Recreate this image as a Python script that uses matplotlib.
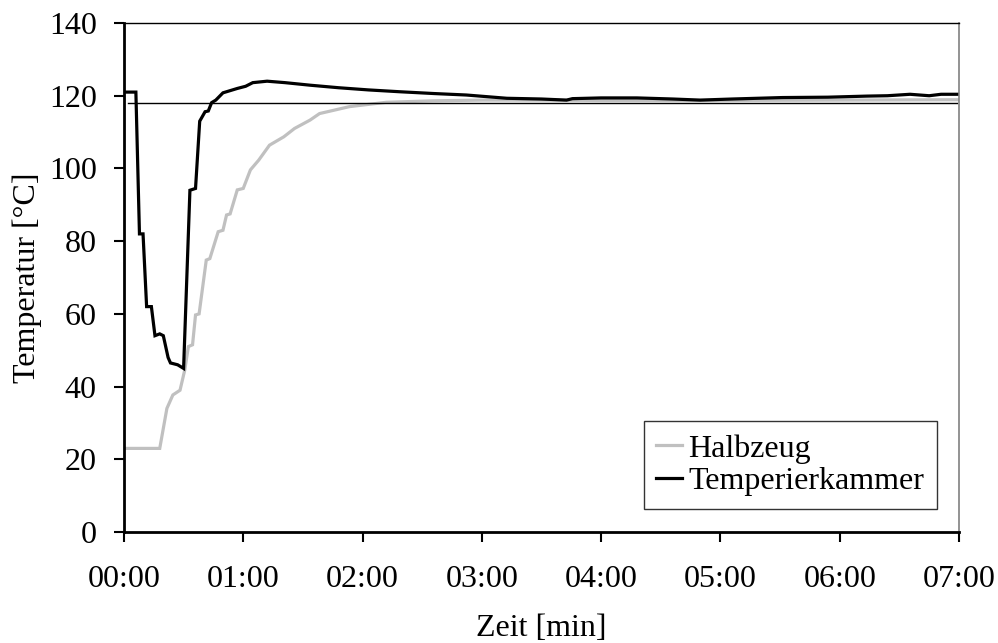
import matplotlib
matplotlib.use("Agg")
import matplotlib.pyplot as plt
from matplotlib.ticker import FuncFormatter, MultipleLocator

# Messwerte (Zeit in Minuten, Temperatur in °C)
t_kammer = [0.00, 0.10, 0.13, 0.16, 0.19, 0.23, 0.26, 0.30, 0.33, 0.37, 0.39, 0.45,
            0.50, 0.553, 0.60, 0.635, 0.68, 0.707, 0.735, 0.77, 0.83, 0.88,
            0.95, 1.02, 1.08, 1.20, 1.35, 1.56, 1.80, 2.05, 2.31, 2.60, 2.87,
            3.21, 3.50, 3.71, 3.76, 4.00, 4.30, 4.60, 4.83, 5.10, 5.52, 5.90,
            6.23, 6.40, 6.59, 6.75, 6.85, 7.00]
temp_kammer = [121.0, 121.0, 82.0, 82.0, 62.0, 62.0, 54.0, 54.5, 54.0, 48.0, 46.5, 46.0,
               45.0, 94.0, 94.5, 113.0, 115.6, 115.8, 118.1, 118.8, 120.8, 121.3,
               122.0, 122.6, 123.6, 124.0, 123.6, 122.9, 122.2, 121.6, 121.1, 120.6, 120.2,
               119.3, 119.1, 118.8, 119.2, 119.4, 119.4, 119.1, 118.8, 119.1, 119.5, 119.6,
               119.9, 120.0, 120.4, 120.0, 120.4, 120.4]

t_halbzeug = [0.00, 0.30, 0.36, 0.41, 0.47, 0.51, 0.54, 0.575, 0.60, 0.63, 0.69,
              0.72, 0.79, 0.83, 0.86, 0.89, 0.95, 1.00, 1.06, 1.13, 1.22, 1.34,
              1.43, 1.56, 1.64, 1.89, 2.20, 2.59, 3.00, 3.50, 4.00, 5.00, 6.00, 7.00]
temp_halbzeug = [23.0, 23.0, 34.0, 37.7, 39.0, 44.6, 51.0, 51.5, 59.7, 60.0, 74.8,
                 75.2, 82.6, 83.0, 87.2, 87.5, 94.1, 94.5, 99.6, 102.3, 106.4, 108.7,
                 111.0, 113.3, 115.1, 117.0, 118.2, 118.6, 118.8, 118.8, 118.7, 118.7, 118.8, 118.9]

# Solltemperatur
soll_t = [0.03, 6.98]
soll_temp = [118.0, 118.0]

plt.rcParams['font.family'] = ['Liberation Serif', 'DejaVu Serif']
FS = 23

fig = plt.figure(figsize=(9.98, 6.43), dpi=100)
ax = fig.add_axes([0.1242, 0.1726, 0.8367, 0.7916])

ax.plot(t_halbzeug, temp_halbzeug, color='#c0c0c0', lw=2.3, label='Halbzeug',
        solid_joinstyle='miter')
ax.plot(t_kammer, temp_kammer, color='black', lw=2.3, label='Temperierkammer',
        solid_joinstyle='miter')
ax.plot(soll_t, soll_temp, color='black', lw=1.0)

ax.set_xlim(0, 7)
ax.set_ylim(0, 140)
ax.xaxis.set_major_locator(MultipleLocator(1))
ax.yaxis.set_major_locator(MultipleLocator(20))
ax.xaxis.set_major_formatter(FuncFormatter(lambda x, pos: f'{int(round(x)):02d}:00'))

ax.tick_params(axis='both', direction='out', length=7.5, width=1.5,
               labelsize=FS, color='black')
ax.tick_params(axis='y', pad=12)
ax.tick_params(axis='x', pad=16)

for side in ('left', 'bottom'):
    ax.spines[side].set_linewidth(2.0)
ax.spines['top'].set_linewidth(1.0)
ax.spines['right'].set_linewidth(1.2)
ax.spines['right'].set_color('#808080')

ax.set_xlabel('Zeit [min]', fontsize=FS, labelpad=15)
ax.set_ylabel('Temperatur [°C]', fontsize=FS, labelpad=5)

leg = ax.legend(loc='lower right', bbox_to_anchor=(0.9737, 0.0452), fontsize=FS,
                frameon=True, fancybox=False, handlelength=0.8,
                handletextpad=0.2, borderpad=0.4, labelspacing=0.1,
                borderaxespad=0)
leg.get_frame().set_edgecolor('black')
leg.get_frame().set_linewidth(1.0)

fig.savefig('out.png', dpi=100, facecolor='white')
